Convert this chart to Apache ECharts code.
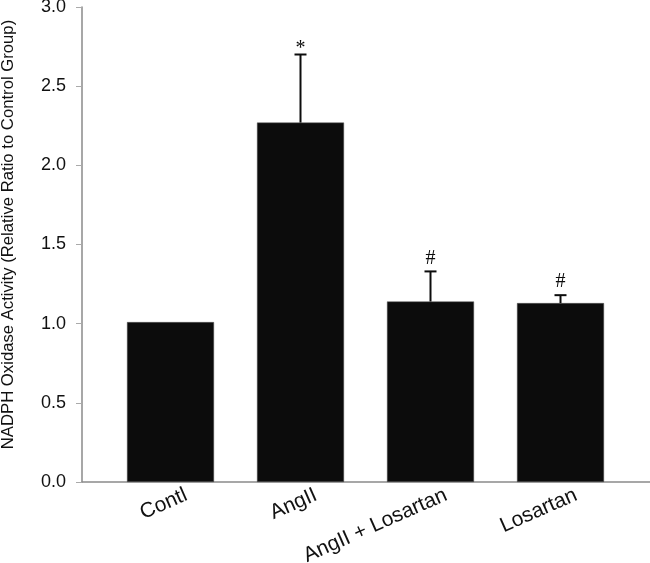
<!DOCTYPE html>
<html>
<head>
<meta charset="utf-8">
<script src="https://cdn.jsdelivr.net/npm/echarts@6/dist/echarts.min.js"></script>
<style>
  html, body { margin: 0; padding: 0; background: #fff; }
  #chart { width: 650px; height: 563px; }
</style>
</head>
<body>
<div id="chart"></div>
<script>
// groups on the x axis
const categories = ["Contl", "AngII", "AngII + Losartan", "Losartan"]
// mean ratio to control
const means = [1.01, 2.27, 1.14, 1.13]
// upper error (SD)
const errors = [0, 0.43, 0.19, 0.05]
// significance marks above error bars
const marks = ["", "*", "#", "#"]

const chart = echarts.init(document.getElementById("chart"))

const axisGrey = "#8a8a8a"
const ink = "#0c0c0c"

// error bar + mark drawn through the value scale
function renderError(params, api) {
  const idx = api.value(0)
  const top = api.coord([idx, api.value(1) + api.value(2)])
  const base = api.coord([idx, api.value(1)])
  const half = 6
  const children = []
  if (api.value(2) > 0) {
    children.push({
      type: "line",
      shape: { x1: base[0], y1: base[1], x2: top[0], y2: top[1] },
      style: { stroke: ink, lineWidth: 2 }
    })
    children.push({
      type: "line",
      shape: { x1: top[0] - half, y1: top[1], x2: top[0] + half, y2: top[1] },
      style: { stroke: ink, lineWidth: 2 }
    })
  }
  const mark = marks[params.dataIndex]
  if (mark) {
    children.push({
      type: "text",
      x: top[0],
      // the asterisk glyph sits high in its box, so drop it a little
      y: top[1] - (mark === "*" ? -4 : 3),
      style: {
        text: mark,
        fill: ink,
        font: '20px "Liberation Serif"',
        align: "center",
        verticalAlign: "bottom"
      }
    })
  }
  return { type: "group", children }
}

chart.setOption({
  animation: false,
  backgroundColor: "#fff",
  grid: [
    { left: 105.5, right: 24.5, top: 7, bottom: 81, containLabel: false, outerBoundsMode: "none" },
    { left: 82, right: 0, top: 7, bottom: 81, containLabel: false, outerBoundsMode: "none" }
  ],
  xAxis: [
    {
      type: "category",
      gridIndex: 0,
      data: categories,
      axisLine: { show: false },
      axisTick: { show: false },
      axisLabel: {
        rotate: 24,
        interval: 0,
        margin: 19,
        color: "#111",
        fontSize: 21,
        fontFamily: "Liberation Sans",
        padding: [0, -17, 0, 0]
      }
    },
    {
      type: "value",
      gridIndex: 1,
      min: 0,
      max: 1,
      axisLine: { show: true, lineStyle: { color: axisGrey, width: 1.5 } },
      axisTick: { show: false },
      axisLabel: { show: false },
      splitLine: { show: false }
    }
  ],
  yAxis: [
    {
      type: "value",
      gridIndex: 0,
      min: 0,
      max: 3,
      interval: 0.5,
      offset: 23.5,
      name: "NADPH Oxidase Activity (Relative Ratio to Control Group)",
      nameLocation: "middle",
      nameGap: 65,
      nameTextStyle: {
        color: "#111",
        fontSize: 16.7,
        fontFamily: "Liberation Sans",
        padding: [0, 0, 0, 20]
      },
      axisLine: { show: true, lineStyle: { color: axisGrey, width: 1.5 } },
      axisTick: { show: true, length: 6, lineStyle: { color: "#aaa" } },
      axisLabel: {
        color: "#111",
        fontSize: 18,
        fontFamily: "Liberation Sans",
        margin: 16,
        formatter: v => v.toFixed(1)
      },
      splitLine: { show: false }
    },
    {
      type: "value",
      gridIndex: 1,
      show: false
    }
  ],
  series: [
    {
      type: "bar",
      xAxisIndex: 0,
      yAxisIndex: 0,
      data: means,
      barWidth: 87,
      itemStyle: { color: ink, borderColor: "#555", borderWidth: 0.5 }
    },
    {
      type: "custom",
      xAxisIndex: 0,
      yAxisIndex: 0,
      renderItem: renderError,
      data: categories.map((c, i) => [i, means[i], errors[i]]),
      z: 3
    }
  ]
})
</script>
</body>
</html>
